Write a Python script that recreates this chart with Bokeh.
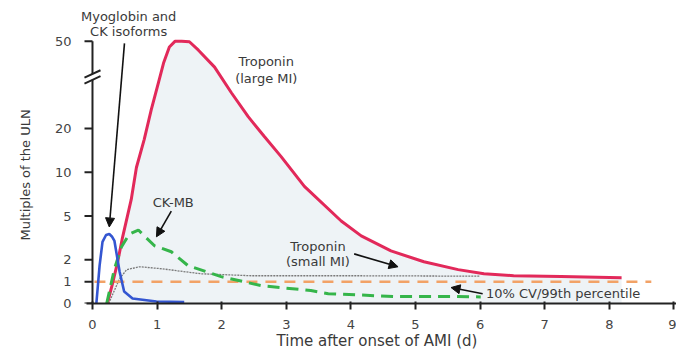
import numpy as np
from bokeh.plotting import figure
from bokeh.models import Range1d, Arrow, NormalHead, Label, FixedTicker, Title
from bokeh.embed import file_html
from bokeh.resources import INLINE

# ---- axis definitions ----
y_tick_values = [0, 1, 2, 5, 10, 20, 50]
y_tick_pos = [0, 1, 2, 4, 6, 8, 12]          # broken / compressed scale positions
x_ticks = [0, 1, 2, 3, 4, 5, 6, 7, 8, 9]

# ---- series (time in days, value in multiples of ULN) ----
trop_large_t = [0.23, 0.31, 0.39, 0.46, 0.60, 0.68, 0.80, 0.91, 1.02, 1.10, 1.19, 1.28, 1.38,
                1.50, 1.64, 1.89, 2.15, 2.41, 2.66, 2.92, 3.28, 3.85, 4.16, 4.62, 5.13, 5.66,
                6.06, 6.52, 7.25, 8.19]
trop_large_v = [0.0, 0.91, 1.91, 3.43, 6.9, 11.1, 17.5, 26.5, 35.7, 42.5, 48.0, 50.6, 51.4,
                49.8, 46.9, 41.1, 32.3, 24.1, 18.2, 13.6, 8.4, 4.66, 3.64, 2.61, 1.91, 1.55,
                1.36, 1.27, 1.23, 1.18]

myo_t = [0.06, 0.11, 0.155, 0.21, 0.26, 0.30, 0.34, 0.42, 0.49, 0.62, 0.99, 1.42]
myo_v = [0.0, 1.73, 3.23, 3.7, 3.77, 3.6, 3.29, 1.45, 0.55, 0.23, 0.09, 0.07]

ckmb_t = [0.22, 0.34, 0.45, 0.57, 0.71, 0.96, 1.22, 1.48, 1.99, 2.61, 3.38, 3.65, 4.67, 5.6, 6.01]
ckmb_v = [0.0, 1.59, 2.89, 3.77, 4.04, 2.96, 2.55, 1.73, 1.23, 0.82, 0.59, 0.45, 0.32, 0.32, 0.30]

trop_small_t = [0.25, 0.42, 0.53, 0.73, 1.07, 1.68, 2.46, 4.0, 6.0]
trop_small_v = [0.0, 1.14, 1.55, 1.68, 1.59, 1.36, 1.27, 1.27, 1.25]

cutoff_t = [0.03, 8.65]
cutoff_v = [1.0, 1.0]


def pos(v):
    return np.interp(np.asarray(v, dtype=float), y_tick_values, y_tick_pos)


TXT = "#3a3a3a"
AX = "#222222"
FONT = "DejaVu Sans"

p = figure(width=676, height=352, x_range=Range1d(-0.232, 9.04), y_range=Range1d(0, 13.86),
           output_backend="svg", toolbar_location=None,
           min_border_left=76, min_border_right=0, min_border_top=0, min_border_bottom=47)
p.outline_line_color = None
p.xgrid.visible = False
p.ygrid.visible = False
p.background_fill_color = "white"

# fill under large-MI troponin curve
p.varea(x=trop_large_t, y1=np.zeros(len(trop_large_t)), y2=pos(trop_large_v),
        fill_color="#eef3f6")

p.line(trop_small_t, pos(trop_small_v), line_color="#7a7a7a", line_width=1.3, line_dash="2 1")
p.line(cutoff_t, pos(cutoff_v), line_color="#f2a266", line_width=2.5, line_dash="11 8")
p.line(trop_large_t, pos(trop_large_v), line_color="#e2295a", line_width=3)
p.line(ckmb_t, pos(ckmb_v), line_color="#35b54a", line_width=3, line_dash="12 7")
p.line(myo_t, pos(myo_v), line_color="#3456d1", line_width=2.6)

# x axis
xa = p.xaxis[0]
xa.ticker = FixedTicker(ticks=x_ticks)
xa.bounds = (-0.09, 9.04)
xa.axis_line_color = AX
xa.axis_line_width = 2
xa.major_tick_line_color = AX
xa.major_tick_line_width = 2
xa.minor_tick_line_color = None
xa.major_tick_in = 2
xa.major_tick_out = 6
xa.major_label_standoff = 10
xa.major_label_text_font = FONT
xa.major_label_text_font_size = "13px"
xa.major_label_text_color = "#444444"
xa.axis_label = "Time after onset of AMI (d)"
xa.axis_label_text_font = FONT
xa.axis_label_text_font_size = "15px"
xa.axis_label_text_font_style = "normal"
xa.axis_label_text_color = TXT
xa.axis_label_standoff = 0

# y axis: labels from Bokeh, line/ticks drawn at x = 0 (with the break)
ya = p.yaxis[0]
ya.ticker = FixedTicker(ticks=y_tick_pos)
ya.major_label_overrides = {pp: str(v) for pp, v in zip(y_tick_pos, y_tick_values)}
ya.axis_line_color = None
ya.major_tick_line_color = None
ya.minor_tick_line_color = None
ya.major_tick_out = 0
ya.major_tick_in = 0
ya.major_label_standoff = 6
ya.major_label_text_font = FONT
ya.major_label_text_font_size = "13px"
ya.major_label_text_color = "#444444"

p.add_layout(Title(text="Multiples of the ULN", align="left", offset=63, standoff=34,
                   vertical_align="top",
                   text_font=FONT, text_font_size="13px", text_font_style="normal",
                   text_color=TXT), "left")

tick_len = 8 / 64.7
gap_lo, gap_hi = 10.23, 10.5
p.segment(x0=[0, 0], y0=[0, gap_hi], x1=[0, 0], y1=[gap_lo, 12], line_color=AX, line_width=2)
p.segment(x0=[-tick_len] * len(y_tick_pos), y0=y_tick_pos, x1=[0] * len(y_tick_pos), y1=y_tick_pos,
          line_color=AX, line_width=2)
p.segment(x0=[-0.124, -0.124], y0=[gap_hi - 0.17, gap_lo - 0.17], x1=[0.124, 0.124],
          y1=[gap_hi + 0.17, gap_lo + 0.17], line_color=AX, line_width=2)


def label(x, y, text, align="center"):
    p.add_layout(Label(x=x, y=y, text=text, text_font=FONT, text_font_size="13px",
                       text_color=TXT, text_align=align, text_baseline="middle"))


def arrow(x0, y0, x1, y1):
    p.add_layout(Arrow(end=NormalHead(size=9, fill_color="#111111", line_color="#111111"),
                       x_start=x0, y_start=y0, x_end=x1, y_end=y1,
                       line_color="#111111", line_width=1.6))


label(0.56, 13.14, "Myoglobin and")
label(0.56, 12.45, "CK isoforms")
arrow(0.495, 11.9, 0.26, 3.5)

label(2.69, 11.05, "Troponin")
label(2.69, 10.3, "(large MI)")

label(1.25, 4.64, "CK-MB")
arrow(1.22, 4.23, 0.99, 3.05)

label(3.49, 2.59, "Troponin")
label(3.49, 1.91, "(small MI)")
arrow(4.05, 2.27, 4.73, 1.68)

label(6.09, 0.45, "10% CV/99th percentile", align="left")
arrow(6.04, 0.45, 5.55, 0.73)

open("out.html", "w").write(file_html(p, INLINE))
